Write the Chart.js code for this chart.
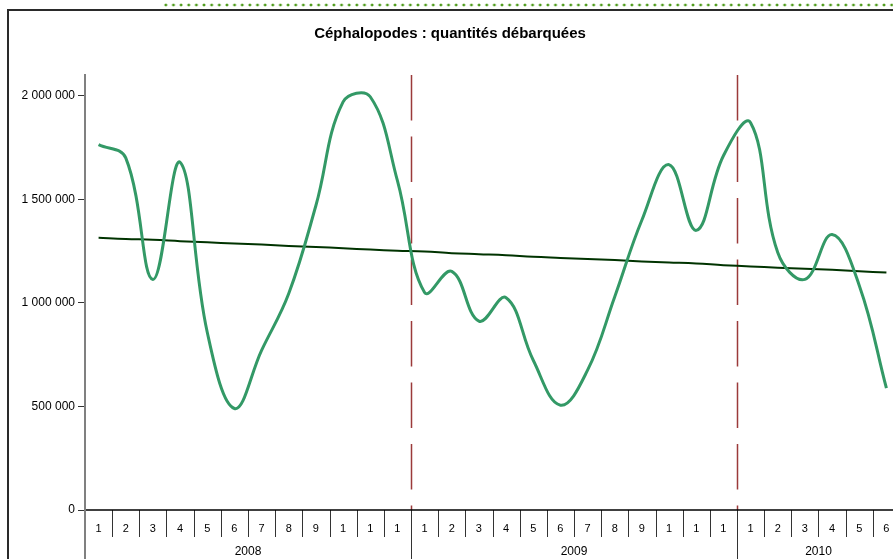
<!DOCTYPE html>
<html>
<head>
<meta charset="utf-8">
<script src="https://cdn.jsdelivr.net/npm/chart.js@4/dist/chart.umd.min.js"></script>
<style>
  html, body { margin: 0; padding: 0; background: #fff; overflow: hidden; width: 893px; height: 559px; }
  #wrap { position: absolute; left: 0; top: 0; width: 905px; height: 559px; }
  #frame { position: absolute; left: 7px; top: 9px; width: 900px; height: 560px; border-left: 2px solid #2a2a2a; border-top: 2px solid #2a2a2a; pointer-events: none; }
  #dots { position: absolute; left: 162px; top: 3px; width: 735px; height: 4px;
          background-image: radial-gradient(circle, #4f9b1c 1.2px, rgba(255,255,255,0) 1.7px);
          background-size: 7.65px 4px; background-repeat: repeat-x; }
</style>
</head>
<body>
<div id="dots"></div>
<div id="wrap"><canvas id="c" width="905" height="559"></canvas></div>
<div id="frame"></div>
<script>
// ---- data ----
const titleText = 'Céphalopodes : quantités débarquées';
const monthLabels = ['1','2','3','4','5','6','7','8','9','1','1','1',
                     '1','2','3','4','5','6','7','8','9','1','1','1',
                     '1','2','3','4','5','6'];
const yearLabels = ['2008', '2009', '2010'];
const monthsPerYear = [12, 12, 6];
const landings = [1764000, 1700000, 1113000, 1679000, 858000, 490000, 771000, 1045000, 1470000, 1970000, 1995000, 1590000,
                  1050000, 1152000, 912000, 1025000, 723000, 506000, 675000, 1030000, 1400000, 1667000, 1350000, 1710000,
                  1870000, 1243000, 1113000, 1330000, 1084000, 588000];
const trend = [1314000, 1308000, 1305000, 1298000, 1292000, 1287000, 1282000, 1275000, 1270000, 1264000, 1257000, 1252000,
               1248000, 1240000, 1235000, 1230000, 1222000, 1217000, 1212000, 1207000, 1200000, 1195000, 1190000, 1182000,
               1176000, 1170000, 1165000, 1160000, 1153000, 1146000];
const yTicks = [0, 500000, 1000000, 1500000, 2000000];

const FONT = "'Liberation Sans', Arial, sans-serif";

function fmt(v) { return String(v).replace(/\B(?=(\d{3})+(?!\d))/g, ' '); }

const axisPlugin = {
  id: 'axisDecor',
  beforeDatasetsDraw(chart) {
    const ctx = chart.ctx, ca = chart.chartArea, xs = chart.scales.x;
    const half = (xs.getPixelForValue(1) - xs.getPixelForValue(0)) / 2;
    ctx.save();
    ctx.strokeStyle = '#9b3a3a';
    ctx.lineWidth = 1.5;
    ctx.setLineDash([45.5, 16]);
    let idx = 0;
    for (let y = 0; y < monthsPerYear.length - 1; y++) {
      idx += monthsPerYear[y];
      const x = Math.round(xs.getPixelForValue(idx) - half) + 0.5;
      ctx.beginPath(); ctx.moveTo(x, ca.top); ctx.lineTo(x, ca.bottom); ctx.stroke();
    }
    ctx.restore();
  },
  afterDraw(chart) {
    const ctx = chart.ctx, ca = chart.chartArea, xs = chart.scales.x;
    const half = (xs.getPixelForValue(1) - xs.getPixelForValue(0)) / 2;
    const H = chart.height;
    ctx.save();
    ctx.strokeStyle = '#333';
    ctx.lineWidth = 1;
    for (let i = 1; i <= monthLabels.length; i++) {
      const x = Math.round(xs.getPixelForValue(i) - half) + 0.5;
      ctx.beginPath(); ctx.moveTo(x, ca.bottom); ctx.lineTo(x, ca.bottom + 27); ctx.stroke();
    }
    let idx = 0;
    ctx.fillStyle = '#000';
    ctx.font = '12px ' + FONT;
    ctx.textAlign = 'center';
    ctx.textBaseline = 'middle';
    for (let y = 0; y < yearLabels.length; y++) {
      const x0 = xs.getPixelForValue(idx) - half;
      const x1 = xs.getPixelForValue(idx + monthsPerYear[y] - 1) + half;
      if (y > 0) {
        const xd = Math.round(x0) + 0.5;
        ctx.beginPath(); ctx.moveTo(xd, ca.bottom); ctx.lineTo(xd, H); ctx.stroke();
      }
      ctx.fillText(yearLabels[y], (x0 + Math.min(x1, ca.right)) / 2, 552);
      idx += monthsPerYear[y];
    }
    ctx.strokeStyle = '#000';
    ctx.lineWidth = 1.5;
    ctx.beginPath(); ctx.moveTo(ca.left, ca.bottom); ctx.lineTo(ca.right, ca.bottom); ctx.stroke();
    ctx.strokeStyle = '#808080';
    ctx.lineWidth = 2;
    ctx.beginPath(); ctx.moveTo(ca.left, ca.top); ctx.lineTo(ca.left, H); ctx.stroke();
    ctx.restore();
  }
};

new Chart(document.getElementById('c'), {
  type: 'line',
  data: {
    labels: monthLabels,
    datasets: [
      { label: 'Quantités', data: landings, borderColor: '#339966', borderWidth: 3, tension: 0.4, pointRadius: 0, fill: false },
      { label: 'Tendance', data: trend, borderColor: '#003300', borderWidth: 2, tension: 0.4, pointRadius: 0, fill: false }
    ]
  },
  options: {
    responsive: false,
    animation: false,
    layout: { padding: { left: 0, right: 5, top: 0, bottom: 0 } },
    plugins: {
      legend: { display: false },
      tooltip: { enabled: false },
      title: {
        display: true, text: titleText, color: '#000',
        font: { family: FONT, size: 15, weight: 'bold' },
        padding: { top: 25, bottom: 32 }
      }
    },
    scales: {
      x: {
        type: 'category',
        offset: true,
        grid: { display: false, drawTicks: false },
        border: { display: false },
        ticks: { color: '#000', font: { family: FONT, size: 11 }, padding: 12, maxRotation: 0, autoSkip: false },
        afterFit(s) { s.height = 49; }
      },
      y: {
        min: 0, max: 2100000,
        afterBuildTicks(s) { s.ticks = yTicks.map(v => ({ value: v })); },
        grid: { drawOnChartArea: false, drawTicks: true, tickLength: 7, color: '#333' },
        border: { display: true, color: '#808080', width: 2 },
        ticks: { color: '#000', font: { family: FONT, size: 12 }, padding: 3, callback: v => fmt(v) },
        afterFit(s) { s.width = 85; }
      }
    }
  },
  plugins: [axisPlugin]
});
</script>
</body>
</html>
